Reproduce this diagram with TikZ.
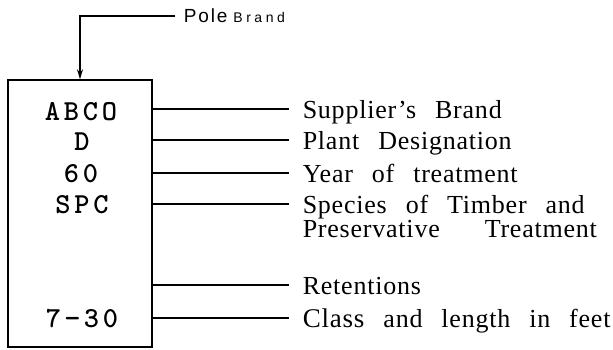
\documentclass[tikz,border=0pt]{standalone}
\usepackage{fontspec}
\setmainfont{Liberation Serif}
\newfontfamily\labelfont[LetterSpace=3,WordSpace=2.6]{Liberation Serif}
\newfontfamily\boxfont[LetterSpace=13]{lmmonolt10-bold.otf}
\newfontfamily\polefont[LetterSpace=10]{Liberation Sans}
\newfontfamily\brandfont[LetterSpace=25]{Liberation Sans}
\usetikzlibrary{arrows.meta,positioning}
\newcommand{\lw}{1.5pt}
\newcommand{\gap}{13pt}
\newcommand{\lift}{9pt}

\begin{document}
\begin{tikzpicture}[x=1pt,y=-1pt,line width=\lw,
	brandtext/.style={anchor=base,inner sep=0pt,font=\boxfont\fontsize{29}{30}\selectfont},
	desc/.style={anchor=base west,inner sep=0pt,align=left,font=\labelfont\fontsize{26}{24}\selectfont}]
	\useasboundingbox (0,0) rectangle (613,349);
	% the pole
	\node[draw,line width=\lw,minimum width=144pt,minimum height=267pt,inner sep=0pt] (pole) at (80,213.5) {};
	\node[brandtext] (abco) at (81,120) {ABCO};
	\node[brandtext] (plant) at (82,150) {D};
	\node[brandtext] (year) at (81,182) {60};
	\node[brandtext] (spc) at (82,213) {SPC};
	\node[brandtext] (cls) at (82,327) {7−30};
	% the labels
	\node[anchor=base west,inner sep=0pt] (poleb) at (183,22)
		{\polefont\fontsize{19}{20}\selectfont Pole\hspace{6pt}\brandfont\fontsize{14}{15}\selectfont Brand};
	\node[desc] (sup) at (302,118) {Supplier’s Brand};
	\node[desc] (des) at (302,149) {Plant Designation};
	\node[desc] (yr) at (302,182) {Year of treatment};
	\node[desc] (spec) at (302,237) {Species of Timber and\\Preservative\hspace{26pt} Treatment};
	\node[desc] (ret) at (302,294) {Retentions};
	\node[desc] (len) at (302,327) {{\fontsize{27}{24}\selectfont Class} and length in feet};
	% connectors
	\draw[-{Stealth[length=10pt,width=6pt]}] ([xshift=-8pt,yshift=6pt]poleb.base west) -| (pole.north);
	\draw ([yshift=\lift]pole.east |- sup.base) -- ([xshift=-\gap,yshift=\lift]sup.base west);
	\draw ([yshift=\lift]pole.east |- des.base) -- ([xshift=-\gap,yshift=\lift]des.base west);
	\draw ([yshift=\lift]pole.east |- yr.base) -- ([xshift=-\gap,yshift=\lift]yr.base west);
	\draw ([yshift=\lift]pole.east |- spc.base) -- ([xshift=-\gap,yshift=\lift]spec.base west |- spc.base);
	\draw ([yshift=\lift]pole.east |- ret.base) -- ([xshift=-\gap,yshift=\lift]ret.base west);
	\draw ([yshift=\lift]pole.east |- len.base) -- ([xshift=-\gap,yshift=\lift]len.base west);
\end{tikzpicture}
\end{document}
